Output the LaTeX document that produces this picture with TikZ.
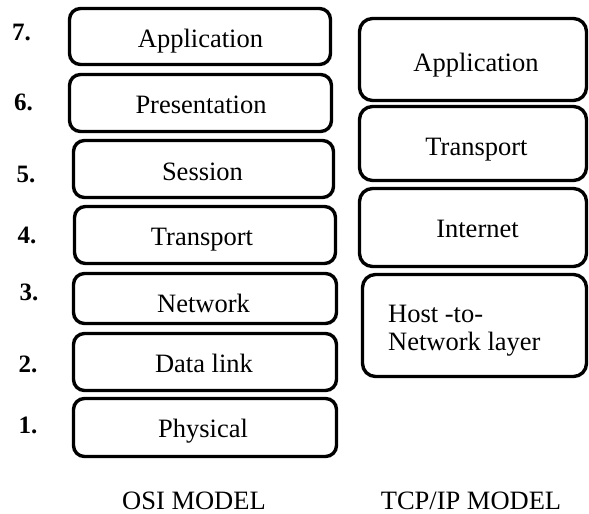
\documentclass[tikz,border=0pt]{standalone}
\usepackage{fontspec}
\setmainfont{Liberation Serif}
\begin{document}
\begin{tikzpicture}[x=1pt,y=-1pt,
  layer/.style={draw=black, line width=3.4pt, rounded corners=11pt, inner sep=0pt, rectangle},
  tcplayer/.style={layer, rounded corners=13pt},
  txt/.style={font=\fontsize{26.5}{28}\selectfont, inner sep=0pt, anchor=base},
  lefttxt/.style={txt, anchor=base west},
  num/.style={font=\fontsize{25}{28}\selectfont\bfseries, inner sep=0pt, anchor=base}]
\useasboundingbox (0,0) rectangle (589,514);

% OSI layers
\node[layer, minimum width=261pt, minimum height=56pt] (oApp)   at (200,36.5) {};
\node[layer, minimum width=262pt, minimum height=57pt] (oPres)  at (200.5,103) {};
\node[layer, minimum width=260pt, minimum height=57pt] (oSess)  at (203.5,169) {};
\node[layer, minimum width=261pt, minimum height=57pt] (oTrans) at (205,235) {};
\node[layer, minimum width=263pt, minimum height=50pt] (oNet)   at (205,298.5) {};
\node[layer, minimum width=263pt, minimum height=57pt] (oData)  at (205,362) {};
\node[layer, minimum width=263pt, minimum height=58pt] (oPhys)  at (205,427.5) {};

\node[txt] (toApp)   at (200.5,47)  {Application};
\node[txt] (toPres)  at (201,113)   {Presentation};
\node[txt] (toSess)  at (202.5,180) {Session};
\node[txt] (toTrans) at (202,245)   {Transport};
\node[txt] (toNet)   at (203.5,312) {Network};
\node[txt] (toData)  at (204,372)   {Data link};
\node[txt] (toPhys)  at (203,437)   {Physical};

% layer numbers
\node[num] (n7) at (21.5,40)  {7.};
\node[num] (n6) at (23.5,110) {6.};
\node[num] (n5) at (26,182)   {5.};
\node[num] (n4) at (27,243)   {4.};
\node[num] (n3) at (29,300)   {3.};
\node[num] (n2) at (28,372)   {2.};
\node[num] (n1) at (28,433)   {1.};

% TCP/IP layers
\node[tcplayer, minimum width=227pt, minimum height=82pt]  (tApp)   at (473,59.5) {};
\node[tcplayer, minimum width=227pt, minimum height=74pt]  (tTrans) at (473,143.5) {};
\node[tcplayer, minimum width=227pt, minimum height=78pt]  (tInet)  at (473,227.5) {};
\node[tcplayer, minimum width=224pt, minimum height=102pt] (tHost)  at (474.5,325.5) {};

\node[txt] (ttApp)   at (476,71)    {Application};
\node[txt] (ttTrans) at (476.5,155) {Transport};
\node[txt] (ttInet)  at (477.5,237) {Internet};
\node[lefttxt] (ttHostA) at (388,322) {Host -to-};
\node[lefttxt] (ttHostB) at (388,350) {Network layer};

% captions
\node[txt] (capOSI) at (194,509) {OSI MODEL};
\node[txt] (capTCP) at (471,509) {TCP/IP MODEL};
\end{tikzpicture}
\end{document}
